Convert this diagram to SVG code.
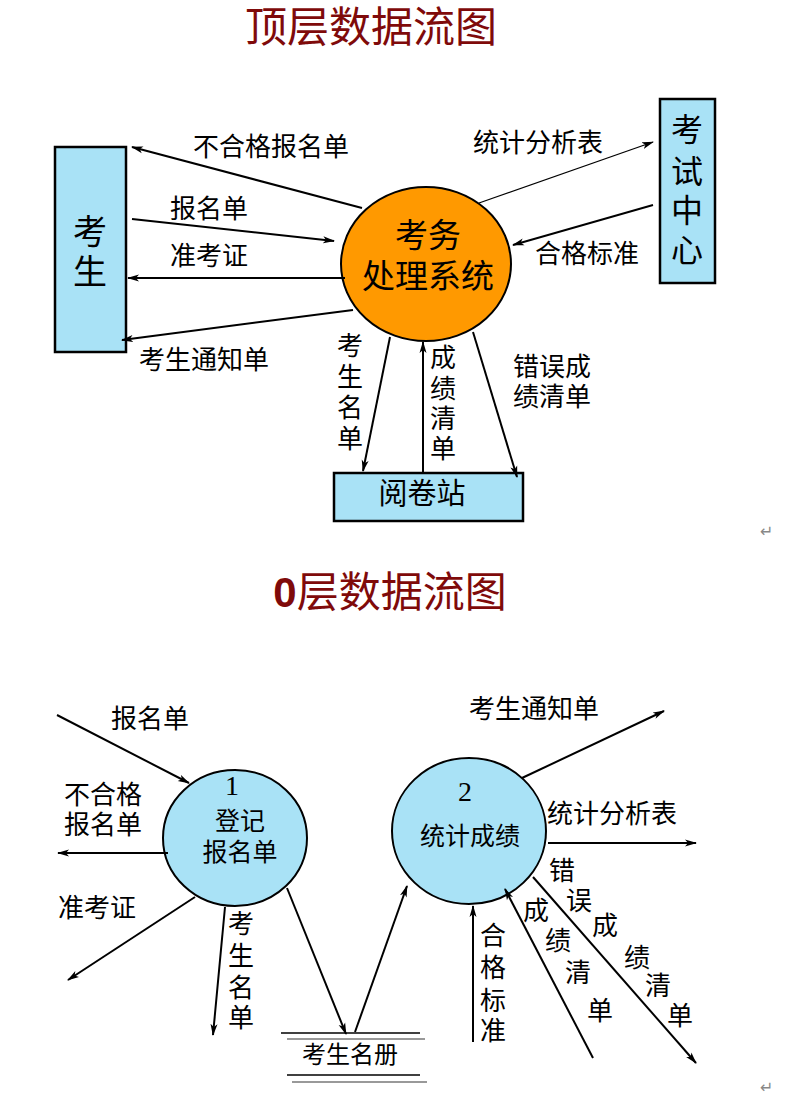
<svg xmlns="http://www.w3.org/2000/svg" width="792" height="1114" viewBox="0 0 792 1114">
  <defs>
    <marker id="arr" viewBox="0 0 12 8" refX="11" refY="4" markerWidth="12" markerHeight="8" markerUnits="userSpaceOnUse" orient="auto">
      <path d="M0,0.5 L12,4 L0,7.5 L3,4 Z" fill="#000"/>
    </marker>
    <style>
      text { font-family: "Liberation Sans", "Noto Sans CJK SC", sans-serif; fill: #000; }
      .title { font-size: 42px; fill: #7f0a0a; text-anchor: middle; }
      .lbl { font-size: 26px; }
      .inner { font-size: 25px; }
      .mid { text-anchor: middle; }
      .num { font-family: "Liberation Serif", "Noto Sans CJK SC", serif; font-size: 28px; text-anchor: middle; }
      .ent { fill: #a9e2f6; stroke: #000; stroke-width: 2.5; }
      .proc { fill: #a9e2f6; stroke: #000; stroke-width: 2; }
      .flow { fill: none; stroke: #000; stroke-width: 2; marker-end: url(#arr); }
      .thin { stroke-width: 1.2; }
      .ret { font-family: "DejaVu Sans", sans-serif; font-size: 16px; fill: #888; }
    </style>
  </defs>

  <!-- top-level diagram -->
  <text class="title" x="371" y="42">顶层数据流图</text>

  <g id="kaosheng">
    <rect class="ent" x="55" y="147" width="71" height="205"/>
    <text class="mid" x="90" y="244" font-size="34">考</text>
    <text class="mid" x="90" y="284" font-size="34">生</text>
  </g>

  <g id="kaoshizhongxin">
    <rect class="ent" x="660" y="99" width="55" height="184"/>
    <text class="mid" x="687" y="141" font-size="32">考</text>
    <text class="mid" x="687" y="183" font-size="32">试</text>
    <text class="mid" x="687" y="222" font-size="32">中</text>
    <text class="mid" x="687" y="262" font-size="32">心</text>
  </g>

  <g id="kaowu">
    <ellipse cx="426" cy="264" rx="85" ry="77" fill="#ff9900" stroke="#000" stroke-width="2"/>
    <text class="mid" x="428" y="247" font-size="33">考务</text>
    <text class="mid" x="428" y="288" font-size="33">处理系统</text>
  </g>

  <g id="yuejuanzhan">
    <rect class="ent" x="334" y="473" width="189" height="48"/>
    <text class="mid" x="422" y="504" font-size="29">阅卷站</text>
  </g>

  <g id="top-flows">
    <line class="flow" x1="362" y1="208" x2="132" y2="147"/>
    <line class="flow" x1="132" y1="219" x2="334" y2="241"/>
    <line class="flow" x1="345" y1="278" x2="128" y2="278"/>
    <line class="flow" x1="353" y1="310" x2="122" y2="340"/>
    <line class="flow thin" x1="479" y1="203" x2="653" y2="142"/>
    <line class="flow" x1="653" y1="205" x2="513" y2="245"/>
    <line class="flow" x1="390" y1="337" x2="363" y2="471"/>
    <line class="flow" x1="423" y1="473" x2="423" y2="342"/>
    <line class="flow" x1="473" y1="332" x2="517" y2="477"/>
  </g>

  <g id="top-labels" class="lbl">
    <text x="193" y="156">不合格报名单</text>
    <text x="170" y="218">报名单</text>
    <text x="170" y="265">准考证</text>
    <text x="139" y="369">考生通知单</text>
    <text x="473" y="152">统计分析表</text>
    <text x="535" y="263">合格标准</text>
    <text class="mid" x="350" y="355">考</text>
    <text class="mid" x="350" y="386">生</text>
    <text class="mid" x="350" y="417">名</text>
    <text class="mid" x="350" y="448">单</text>
    <text class="mid" x="443" y="367">成</text>
    <text class="mid" x="443" y="398">绩</text>
    <text class="mid" x="443" y="428">清</text>
    <text class="mid" x="443" y="458">单</text>
    <text x="513" y="376">错误成</text>
    <text x="513" y="406">绩清单</text>
  </g>

  <text class="ret" x="760" y="537">↵</text>

  <!-- level-0 diagram -->
  <text class="title" x="390" y="607"><tspan font-family="Liberation Sans, sans-serif" font-weight="bold">0</tspan>层数据流图</text>

  <g id="p1">
    <ellipse class="proc" cx="235" cy="838" rx="72" ry="68"/>
    <text class="num" x="232" y="795">1</text>
    <text class="inner mid" x="240" y="830">登记</text>
    <text class="inner mid" x="240" y="861">报名单</text>
  </g>

  <g id="p2">
    <ellipse class="proc" cx="469" cy="831" rx="77" ry="73"/>
    <text class="num" x="465" y="801">2</text>
    <text class="inner mid" x="470" y="845">统计成绩</text>
  </g>

  <g id="kaoshengmingce">
    <line x1="281" y1="1033" x2="420" y2="1033" stroke="#000" stroke-width="1.6"/>
    <line x1="287" y1="1039" x2="425" y2="1039" stroke="#777" stroke-width="1.4"/>
    <line x1="287" y1="1075" x2="420" y2="1075" stroke="#000" stroke-width="1.6"/>
    <line x1="292" y1="1082" x2="427" y2="1082" stroke="#777" stroke-width="1.4"/>
    <text class="mid" x="350" y="1063" font-size="24">考生名册</text>
  </g>

  <g id="level0-flows">
    <line class="flow" x1="57" y1="715" x2="189" y2="783"/>
    <line class="flow" x1="168" y1="853" x2="58" y2="853"/>
    <line class="flow" x1="195" y1="897" x2="68" y2="980"/>
    <line class="flow" x1="225" y1="907" x2="213" y2="1035"/>
    <line class="flow" x1="287" y1="888" x2="346" y2="1034"/>
    <line class="flow" x1="355" y1="1032" x2="407" y2="886"/>
    <line class="flow" x1="522" y1="778" x2="664" y2="711"/>
    <line class="flow" x1="548" y1="843" x2="696" y2="843"/>
    <line class="flow" x1="533" y1="877" x2="696" y2="1063"/>
    <line class="flow" x1="593" y1="1058" x2="505" y2="889"/>
    <line class="flow" x1="473" y1="1042" x2="473" y2="906"/>
  </g>

  <g id="level0-labels" class="lbl">
    <text x="111" y="728">报名单</text>
    <text x="64" y="804">不合格</text>
    <text x="64" y="834">报名单</text>
    <text x="58" y="917">准考证</text>
    <text x="469" y="718">考生通知单</text>
    <text x="547" y="823">统计分析表</text>
    <text class="mid" x="241" y="933">考</text>
    <text class="mid" x="241" y="965">生</text>
    <text class="mid" x="241" y="997">名</text>
    <text class="mid" x="241" y="1027">单</text>
    <text class="mid" x="493" y="945">合</text>
    <text class="mid" x="493" y="977">格</text>
    <text class="mid" x="493" y="1010">标</text>
    <text class="mid" x="493" y="1040">准</text>
    <text class="mid" x="536" y="920">成</text>
    <text class="mid" x="558" y="950">绩</text>
    <text class="mid" x="578" y="982">清</text>
    <text class="mid" x="600" y="1020">单</text>
    <text class="mid" x="562" y="880">错</text>
    <text class="mid" x="579" y="910">误</text>
    <text class="mid" x="605" y="935">成</text>
    <text class="mid" x="637" y="967">绩</text>
    <text class="mid" x="658" y="995">清</text>
    <text class="mid" x="680" y="1025">单</text>
  </g>

  <text class="ret" x="760" y="1093">↵</text>
</svg>
